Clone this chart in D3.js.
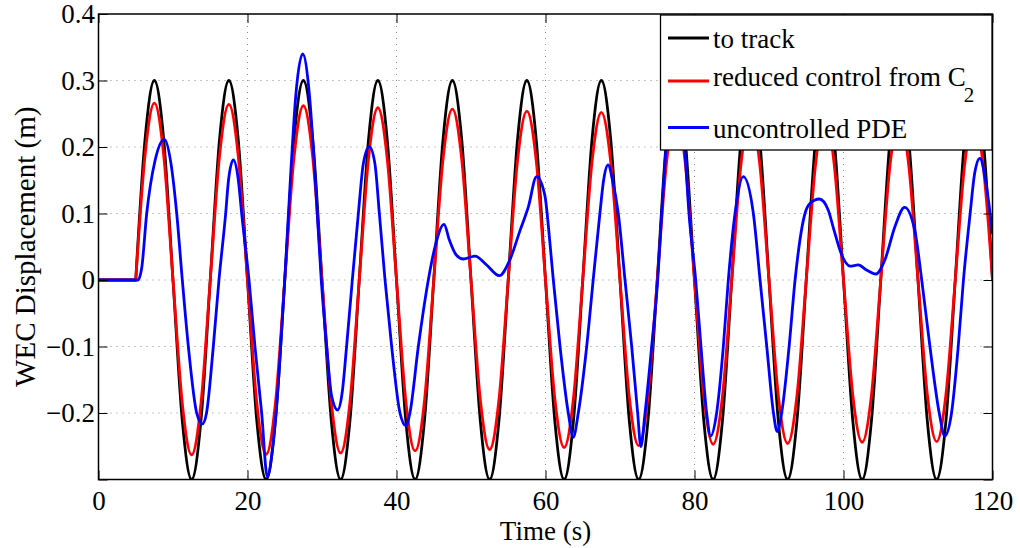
<!DOCTYPE html>
<html>
<head>
<meta charset="utf-8">
<script src="https://cdn.jsdelivr.net/npm/d3@7"></script>
<style>
  html, body { margin: 0; padding: 0; background: #fff; }
  svg { display: block; }
  svg text { font-family: "Liberation Serif", "Times New Roman", serif !important; fill: #000; }
</style>
</head>
<body>
<svg id="chart" width="1020" height="548"></svg>
<script>
// ---------- data ----------
const xTicks = [0, 20, 40, 60, 80, 100, 120];
const xTickLabels = ["0", "20", "40", "60", "80", "100", "120"];
const yTicks = [-0.3, -0.2, -0.1, 0, 0.1, 0.2, 0.3, 0.4];
const yTickLabels = ["", "\u22120.2", "\u22120.1", "0", "0.1", "0.2", "0.3", "0.4"];

const seriesNames = ["to track", "reduced control from C", "uncontrolled PDE"];
const seriesColors = ["#000000", "#ff0000", "#0000ff"];

// time grid shared by the tracked and reduced-control signals (s)
const gridT = [0,
  5, 6.25, 7.5, 8.75, 10, 11.25, 12.5, 13.75,
  15, 16.25, 17.5, 18.75, 20, 21.25, 22.5, 23.75,
  25, 26.25, 27.5, 28.75, 30, 31.25, 32.5, 33.75,
  35, 36.25, 37.5, 38.75, 40, 41.25, 42.5, 43.75,
  45, 46.25, 47.5, 48.75, 50, 51.25, 52.5, 53.75,
  55, 56.25, 57.5, 58.75, 60, 61.25, 62.5, 63.75,
  65, 66.25, 67.5, 68.75, 70, 71.25, 72.5, 73.75,
  75, 76.25, 77.5, 78.75, 80, 81.25, 82.5, 83.75,
  85, 86.25, 87.5, 88.75, 90, 91.25, 92.5, 93.75,
  95, 96.25, 97.5, 98.75, 100, 101.25, 102.5, 103.75,
  105, 106.25, 107.5, 108.75, 110, 111.25, 112.5, 113.75,
  115, 116.25, 117.5, 118.75, 120];

const trackV = [0,
  0, 0.212, 0.3, 0.212, 0, -0.212, -0.3, -0.212,
  0, 0.212, 0.3, 0.212, 0, -0.212, -0.3, -0.212,
  0, 0.212, 0.3, 0.212, 0, -0.212, -0.3, -0.212,
  0, 0.212, 0.3, 0.212, 0, -0.212, -0.3, -0.212,
  0, 0.212, 0.3, 0.212, 0, -0.212, -0.3, -0.212,
  0, 0.212, 0.3, 0.212, 0, -0.212, -0.3, -0.212,
  0, 0.212, 0.3, 0.212, 0, -0.212, -0.3, -0.212,
  0, 0.212, 0.3, 0.212, 0, -0.212, -0.3, -0.212,
  0, 0.212, 0.3, 0.212, 0, -0.212, -0.3, -0.212,
  0, 0.212, 0.3, 0.212, 0, -0.212, -0.3, -0.212,
  0, 0.212, 0.3, 0.212, 0, -0.212, -0.3, -0.212,
  0, 0.212, 0.3, 0.212, 0];

const reducedV = [0,
  0, 0.188, 0.266, 0.188, 0, -0.186, -0.263, -0.186,
  0, 0.187, 0.264, 0.187, 0, -0.185, -0.262, -0.185,
  0, 0.185, 0.262, 0.185, 0, -0.184, -0.260, -0.184,
  0, 0.183, 0.259, 0.183, 0, -0.182, -0.257, -0.182,
  0, 0.182, 0.257, 0.182, 0, -0.180, -0.255, -0.180,
  0, 0.180, 0.254, 0.180, 0, -0.178, -0.252, -0.178,
  0, 0.178, 0.252, 0.178, 0, -0.176, -0.249, -0.176,
  0, 0.177, 0.250, 0.177, 0, -0.175, -0.247, -0.175,
  0, 0.175, 0.248, 0.175, 0, -0.174, -0.246, -0.174,
  0, 0.174, 0.246, 0.174, 0, -0.173, -0.244, -0.173,
  0, 0.173, 0.245, 0.173, 0, -0.172, -0.243, -0.172,
  0, 0.172, 0.244, 0.172, 0];

// uncontrolled PDE response
const pdeT = [0, 5.3, 5.8, 6.47, 7.6, 8.85, 9.73, 10.5, 11.25, 12.06, 13.18, 13.94, 14.5,
  15.41, 16.17, 17.07, 17.45, 18.1, 18.77, 19.22, 20.2, 21.0, 21.9, 22.66, 23.4, 24.2,
  25.0, 25.8, 26.5, 27.4, 28.3, 29.1, 29.9, 30.63, 31.3, 32.1, 32.7, 33.3, 34.07, 34.88,
  35.55, 36.35, 37.1, 37.7, 38.46, 39.35, 40.47, 41.28, 41.8, 42.93, 44.27, 45.17, 46.38,
  47.1, 48.0, 48.97, 50.54, 52.1, 53.8, 55.2, 56.6, 57.7, 58.8, 59.9, 60.6, 61.05, 61.95,
  63.06, 63.73, 64.4, 65.53, 66.4, 67.3, 67.8, 68.4, 69.0, 69.77, 70.67, 71.57, 72.37,
  72.8, 73.36, 74.25, 75.06, 75.6, 77.2, 78.7, 79.26, 80.16, 80.87, 81.63, 82.17, 82.97,
  83.87, 84.54, 85.44, 86.55, 87.9, 88.8, 89.7, 90.6, 91.1, 91.7, 92.7, 93.5, 94.83, 95.5,
  96.75, 97.96, 98.6, 99.76, 100.87, 101.99, 103.1, 104.35, 105.55, 106.9, 108.2, 109.56,
  110.5, 111.6, 112.85, 113.6, 114.5, 115.4, 116.1, 117.0, 117.6, 118.3, 119.2, 120];
const pdeV = [0, 0, 0.018, 0.1, 0.18, 0.2115, 0.175, 0.1, 0, -0.1, -0.2, -0.2165, -0.2,
  -0.1, 0, 0.1, 0.15, 0.1805, 0.15, 0.1, 0, -0.1, -0.2, -0.296, -0.25, -0.145,
  0, 0.16, 0.28, 0.34, 0.28, 0.15, 0, -0.1, -0.175, -0.1955, -0.17, -0.1, 0, 0.1,
  0.175, 0.2005, 0.175, 0.1, 0, -0.1, -0.2, -0.2195, -0.2, -0.1, 0, 0.05, 0.0837,
  0.06, 0.038, 0.0316, 0.036, 0.0226, 0.0065, 0.03, 0.075, 0.11, 0.1555, 0.128, 0.055, 0, -0.1,
  -0.2, -0.2366, -0.2, -0.1, 0, 0.1, 0.15, 0.173, 0.15, 0.1, 0, -0.1, -0.2,
  -0.2506, -0.2, -0.1, 0, 0.1, 0.3, 0.195, 0.1, 0, -0.1, -0.2, -0.2346, -0.2,
  -0.1, 0, 0.1, 0.1555, 0.1, 0, -0.1, -0.2, -0.228, -0.2, -0.1, 0, 0.1, 0.115,
  0.1218, 0.105, 0.08, 0.0376, 0.021, 0.0226, 0.015, 0.009, 0.03, 0.08, 0.1093, 0.075,
  0, -0.1, -0.2, -0.2346, -0.2, -0.1, 0, 0.1, 0.16, 0.183, 0.14, 0.07];

// ---------- layout ----------
const W = 1020, H = 548;
const mLeft = 98.5, mRight = 992.5, mTop = 14, mBottom = 479.5;
const FONT = 27;
const LW = 2.8;
const SERIF = "'Liberation Serif', 'Times New Roman', serif";

const svg = d3.select("#chart");
svg.append("rect").attr("width", W).attr("height", H).attr("fill", "#fff");

const x = d3.scaleLinear().domain([0, 120]).range([mLeft, mRight]);
const y = d3.scaleLinear().domain([-0.3, 0.4]).range([mBottom, mTop]);

// grid (dotted)
const grid = svg.append("g").attr("stroke", "#8c8c8c").attr("stroke-width", 1)
  .attr("stroke-dasharray", "1,5");
grid.selectAll("line.gx").data(xTicks.filter(d => d > 0 && d < 120)).join("line")
  .attr("x1", d => x(d)).attr("x2", d => x(d)).attr("y1", mTop).attr("y2", mBottom);
grid.selectAll("line.gy").data(yTicks.filter(d => d > -0.3 && d < 0.4)).join("line")
  .attr("y1", d => y(d)).attr("y2", d => y(d)).attr("x1", mLeft).attr("x2", mRight);

// clip
svg.append("clipPath").attr("id", "plotclip").append("rect")
  .attr("x", mLeft).attr("y", mTop).attr("width", mRight - mLeft).attr("height", mBottom - mTop);

const lineGen = d3.line().x(d => x(d[0])).y(d => y(d[1])).curve(d3.curveMonotoneX);
const plot = svg.append("g").attr("clip-path", "url(#plotclip)");

function drawSeries(pts, color, splitAt) {
  // the forced signals switch on abruptly: draw the rest segment and the wave separately
  const parts = splitAt == null ? [pts]
    : [pts.filter(d => d[0] <= splitAt), pts.filter(d => d[0] >= splitAt)];
  parts.forEach(p => {
    plot.append("path").datum(p).attr("d", lineGen).attr("fill", "none")
      .attr("stroke", color).attr("stroke-width", LW)
      .attr("stroke-linejoin", "round").attr("stroke-linecap", "round");
  });
}
drawSeries(d3.zip(gridT, trackV), seriesColors[0], gridT[1]);
drawSeries(d3.zip(gridT, reducedV), seriesColors[1], gridT[1]);
drawSeries(d3.zip(pdeT, pdeV), seriesColors[2], null);

// axes
const tick = 9;
const xAxis = svg.append("g").attr("transform", `translate(0,${mBottom})`)
  .call(d3.axisBottom(x).tickValues(xTicks).tickSize(-tick).tickSizeOuter(0)
    .tickPadding(11.5).tickFormat((d, i) => xTickLabels[i]));
const xAxisTop = svg.append("g").attr("transform", `translate(0,${mTop})`)
  .call(d3.axisTop(x).tickValues(xTicks).tickSize(-tick).tickSizeOuter(0).tickFormat(""));
const yAxis = svg.append("g").attr("transform", `translate(${mLeft},0)`)
  .call(d3.axisLeft(y).tickValues(yTicks).tickSize(-tick).tickSizeOuter(0)
    .tickPadding(3.5).tickFormat((d, i) => yTickLabels[i]));
const yAxisRight = svg.append("g").attr("transform", `translate(${mRight},0)`)
  .call(d3.axisRight(y).tickValues(yTicks).tickSize(-tick).tickSizeOuter(0).tickFormat(""));
[xAxis, xAxisTop, yAxis, yAxisRight].forEach(g => {
  g.attr("font-family", null).attr("font-size", null);
  g.select(".domain").remove();
  g.selectAll(".tick line").attr("stroke", "#000").attr("stroke-width", 1);
  g.selectAll("text").style("font-size", FONT + "px").style("fill", "#000")
    .style("font-family", SERIF);
});

svg.append("rect").attr("x", mLeft).attr("y", mTop)
  .attr("width", mRight - mLeft).attr("height", mBottom - mTop)
  .attr("fill", "none").attr("stroke", "#000").attr("stroke-width", 1.5);

// axis titles
svg.append("text").attr("x", (mLeft + mRight) / 2).attr("y", 540)
  .attr("text-anchor", "middle").style("font-size", FONT + "px").style("font-family", SERIF)
  .text("Time (s)");
svg.append("text").attr("transform", `translate(35,${(mTop + mBottom) / 2}) rotate(-90)`)
  .attr("text-anchor", "middle").style("font-size", "29px").style("font-family", SERIF)
  .text("WEC Displacement (m)");

// legend
const lg = svg.append("g");
lg.append("rect").attr("x", 660.5).attr("y", 15).attr("width", 331.5).attr("height", 135)
  .attr("fill", "#fff").attr("stroke", "#000").attr("stroke-width", 1.3);
const legendY = [38, 81, 127.5];
const legendBase = [47.5, 86, 138];
seriesNames.forEach((name, i) => {
  lg.append("line").attr("x1", 668).attr("x2", 709).attr("y1", legendY[i]).attr("y2", legendY[i])
    .attr("stroke", seriesColors[i]).attr("stroke-width", LW);
  const t = lg.append("text").attr("x", 713).attr("y", legendBase[i])
    .style("font-size", FONT + "px").style("font-family", SERIF).text(name);
  if (i === 1) {
    t.append("tspan").style("font-size", "21px").attr("dx", -2).attr("dy", 15.5).text("2");
  }
});
</script>
</body>
</html>
